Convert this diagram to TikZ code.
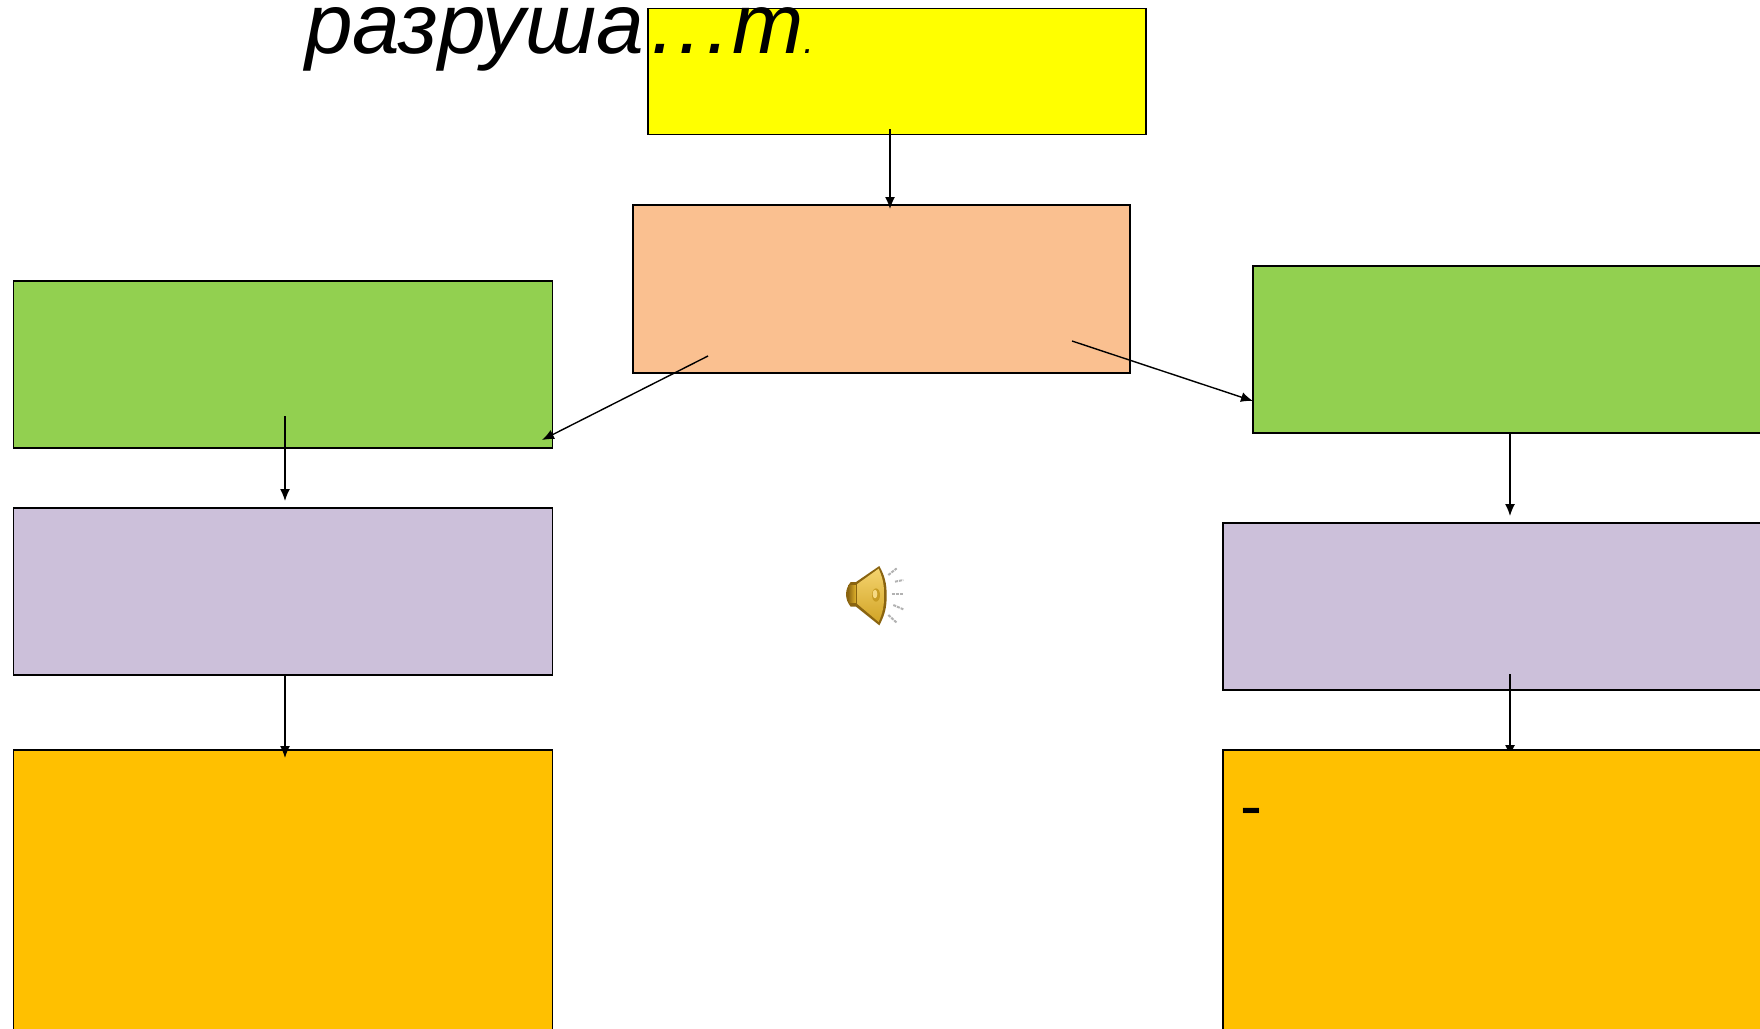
\documentclass[tikz,border=0pt]{standalone}
\usepackage{fontspec}
\setmainfont{Liberation Sans}
\usetikzlibrary{arrows.meta}
\definecolor{giallo}{HTML}{FFFF00}
\definecolor{pesca}{HTML}{FAC090}
\definecolor{verde}{HTML}{92D050}
\definecolor{lilla}{HTML}{CCC0DA}
\definecolor{ambra}{HTML}{FFC000}
\definecolor{oro}{HTML}{F0C030}
\definecolor{orob}{HTML}{8A6410}
\tikzset{
  scatola/.style={draw=black, line width=1.5pt, anchor=north west, inner sep=0pt},
  freccia/.style={line width=1.4pt, -{Latex[length=12pt,width=10pt]}},
  onda/.style={line width=2pt, gray!60, dash pattern=on 3pt off 1pt}
}
\begin{document}
\begin{tikzpicture}[x=1pt,y=-1pt]
\useasboundingbox (0,0) rectangle (1760,1028);

\begin{scope}
\clip (0,0) rectangle (1760,1028);

\node[scatola, fill=giallo, minimum width=498pt, minimum height=126pt] (dom) at (647,7.5) {};
\node[scatola, fill=pesca, minimum width=497pt, minimum height=168pt] (centro) at (632,204) {};
\node[scatola, fill=verde, minimum width=539pt, minimum height=167pt] (vs) at (12.5,280) {};
\node[scatola, fill=verde, minimum width=600pt, minimum height=167pt] (vd) at (1252,265) {};
\node[scatola, fill=lilla, minimum width=539pt, minimum height=167pt] (ls) at (12.5,507) {};
\node[scatola, fill=lilla, minimum width=600pt, minimum height=167pt] (ld) at (1222,522) {};

\coordinate (a1) at (890,129);
\coordinate (a2) at (890,209);
\coordinate (b1) at (708,356);
\coordinate (b2) at (542,440);
\coordinate (c1) at (1072,341);
\coordinate (c2) at (1253,401);
\coordinate (d1) at (285,416);
\coordinate (d2) at (285,501);
\coordinate (e1) at (1510,432);
\coordinate (e2) at (1510,516);
\coordinate (f1) at (1510,674);
\coordinate (f2) at (1510,757);
\coordinate (g1) at (285,675);
\coordinate (g2) at (285,758);

\draw[freccia] (f1) -- (f2);

\node[scatola, fill=ambra, minimum width=539pt, minimum height=400pt] (as) at (12.5,749) {};
\node[scatola, fill=ambra, minimum width=600pt, minimum height=400pt] (ad) at (1222,749) {};

\draw[freccia] (a1) -- (a2);
\draw[freccia] (b1) -- (b2);
\draw[freccia] (c1) -- (c2);
\draw[freccia] (d1) -- (d2);
\draw[freccia] (e1) -- (e2);
\draw[freccia] (g1) -- (g2);

\node[anchor=base west, inner sep=0pt, font=\fontsize{85.5}{86}\selectfont\itshape] (titolo) at (305,53) {разруша\kern7pt.\kern4pt.\kern4pt.\kern2pt m{\fontsize{36}{36}\selectfont.}};
\node[anchor=base west, inner sep=0pt, font=\fontsize{66}{66}\selectfont] (trattino) at (1240,828) {-};

\begin{scope}[shift={(820,550)}, scale=1/3]
\draw[onda] (205,75) -- (230,55);
\draw[onda] (225,95) -- (250,90);
\draw[onda] (215,133) -- (250,133);
\draw[onda] (220,165) -- (250,178);
\draw[onda] (205,195) -- (230,218);
\fill[orob] (112,96) -- (92,96) to[bend right=40] (92,170) -- (112,170) -- cycle;
\shade[left color=orob, right color=oro] (84,106) rectangle (112,158);
\fill[orob] (108,96) -- (178,48) to[bend left=14] (200,135) to[bend left=14] (178,226) -- (108,170) -- cycle;
\shade[top color=oro!70!white, bottom color=oro!70!orob] (112,102) -- (176,56) to[bend left=12] (192,135) to[bend left=12] (176,216) -- (112,162) -- cycle;
\fill[oro!60!orob] (168,135) ellipse (12 and 20);
\fill[oro!60!white] (165,132) ellipse (7 and 13);
\end{scope}

\end{scope}

\end{tikzpicture}
\end{document}
